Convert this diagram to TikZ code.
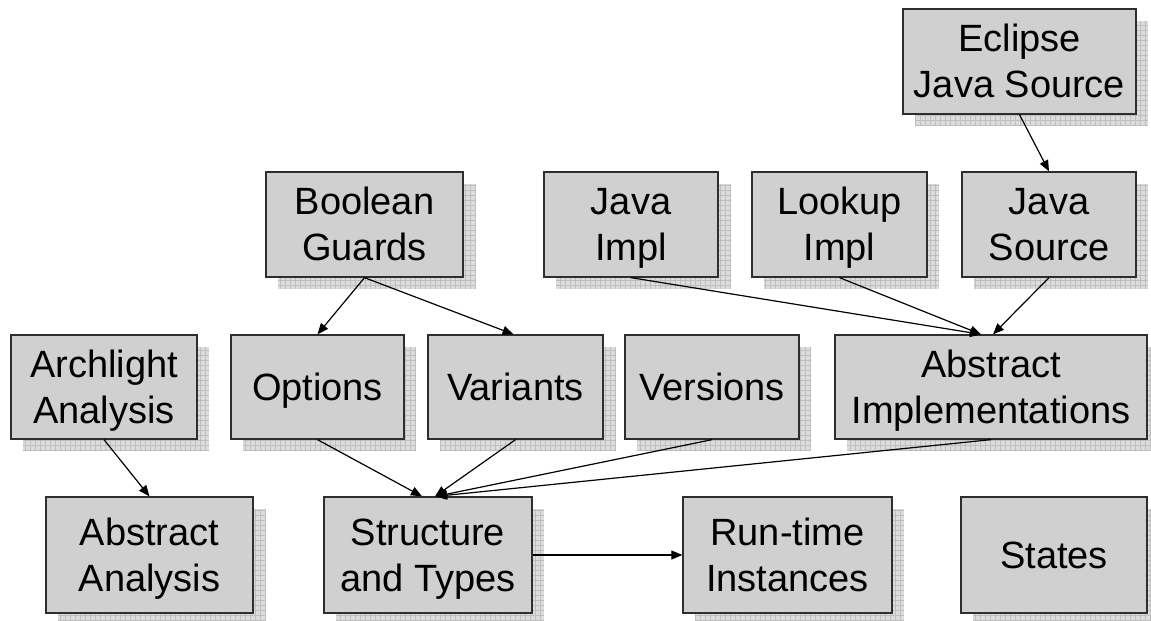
\documentclass[tikz,border=0pt]{standalone}
\usepackage{fontspec}
\setmainfont{Liberation Sans}
\usetikzlibrary{arrows.meta}

\definecolor{boxfill}{HTML}{D0D0D0}
\definecolor{boxline}{HTML}{2E2E2E}
\definecolor{shadefill}{HTML}{DCDCDC}
\definecolor{shadegrid}{HTML}{BEBEBE}

% line strut: ascent and descent of the label font
\newcommand\bxs{\rule[-8pt]{0pt}{42pt}}

% box given by its corners (x1,y1)-(x2,y2), with a gridded drop shadow
\newcommand\gridbox[6]{%
  \fill[shadefill] ({#2+12},{#3+12}) rectangle ({#4+12},{#5+12});
  \draw[shadegrid, line width=0.6pt, step=5pt] ({#2+12},{#3+12}) grid ({#4+12},{#5+12});
  \node[bx, minimum width={(#4)-(#2)}, minimum height={(#5)-(#3)}]
    (#1) at ({(#2+#4)/2},{(#3+#5)/2}) {#6};
}

\tikzset{
  bx/.style={draw=boxline, fill=boxfill, line width=1.3pt, inner sep=0pt,
    align=center, font=\fontsize{38}{46}\selectfont},
  link/.style={draw=black, line width=1.2pt, -{Triangle[length=11pt,width=9pt]}}
}

\begin{document}
\begin{tikzpicture}[x=1pt, y=-1pt]
  \fill[white] (0,0) rectangle (1151,621);
  \clip (0,0) rectangle (1151,621);

  % top
  \gridbox{ecl}{903}{9}{1136}{114}{\bxs Eclipse\\\bxs Java Source}

  % upper row
  \gridbox{bool}{266}{172}{463}{277}{\bxs Boolean\\\bxs Guards}
  \gridbox{jimpl}{544}{172}{718}{277}{\bxs Java\\\bxs Impl}
  \gridbox{lookup}{752}{172}{927}{277}{\bxs Lookup\\\bxs Impl}
  \gridbox{jsrc}{962}{172}{1136}{277}{\bxs Java\\\bxs Source}

  % middle row
  \gridbox{arch}{11}{335}{197}{439}{\bxs Archlight\\\bxs Analysis}
  \gridbox{opt}{231}{335}{404}{439}{\bxs Options}
  \gridbox{var}{428}{335}{603}{439}{\bxs Variants}
  \gridbox{vers}{625}{335}{799}{439}{\bxs Versions}
  \gridbox{absimpl}{835}{335}{1147}{439}{\bxs Abstract\\\bxs Implementations}

  % bottom row
  \gridbox{absan}{46}{497}{253}{613}{\bxs Abstract\\\bxs Analysis}
  \gridbox{struct}{324}{497}{532}{613}{\bxs Structure\\\bxs and Types}
  \gridbox{rt}{683}{497}{892}{613}{\bxs Run-time\\\bxs Instances}
  \gridbox{states}{961}{497}{1147}{613}{\bxs States}

  % dependencies
  \draw[link] (ecl.south) -- (jsrc.north);
  \draw[link] (bool.south) -- (opt.north);
  \draw[link] (bool.south) -- ([xshift=-2pt]var.north);
  \draw[link] (jimpl.south) -- ([xshift=-10pt]absimpl.north);
  \draw[link] (lookup.south) -- ([xshift=-10pt]absimpl.north);
  \draw[link] (jsrc.south) -- ([xshift=2pt]absimpl.north);
  \draw[link] (arch.south) -- (absan.north);
  \draw[link] (opt.south) -- ([xshift=-6pt]struct.north);
  \draw[link] (var.south) -- ([xshift=7pt]struct.north);
  \draw[link] (vers.south) -- ([xshift=8pt]struct.north);
  \draw[link] (absimpl.south) -- ([xshift=8pt]struct.north);
  \draw[link] (struct.east) -- (rt.west);
\end{tikzpicture}
\end{document}
